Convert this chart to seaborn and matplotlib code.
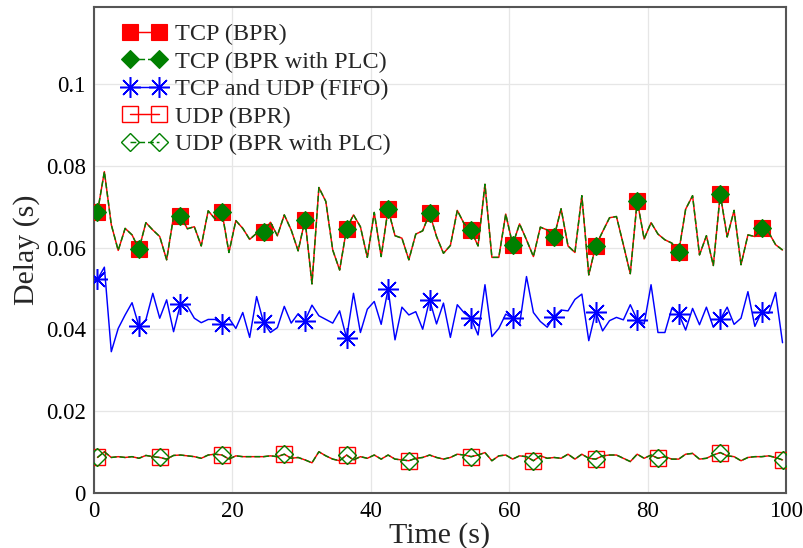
import numpy as np
import pandas as pd
import matplotlib
matplotlib.use("Agg")
import matplotlib.pyplot as plt
import seaborn as sns

time_s = np.arange(0.5, 100, 1.0)

tcp_bpr = [
    0.0686, 0.0786, 0.0656, 0.0593, 0.0647, 0.0631, 0.0596, 0.0661, 0.0643, 0.0627,
    0.0570, 0.0676, 0.0678, 0.0646, 0.0651, 0.0604, 0.0690, 0.0670, 0.0686, 0.0588,
    0.0666, 0.0647, 0.0620, 0.0635, 0.0638,
    0.0662, 0.0629, 0.0680, 0.0643, 0.0592, 0.0668, 0.0511, 0.0747, 0.0713, 0.0594,
    0.0545, 0.0646, 0.0680, 0.0651, 0.0576, 0.0686, 0.0578, 0.0694, 0.0629, 0.0623,
    0.0570, 0.0633, 0.0641, 0.0684, 0.0627,
    0.0586, 0.0605, 0.0691, 0.0658, 0.0642, 0.0604, 0.0755, 0.0576, 0.0576, 0.0682,
    0.0607, 0.0658, 0.0619, 0.0578, 0.0650, 0.0643, 0.0627, 0.0695, 0.0604, 0.0588,
    0.0727, 0.0533, 0.0604, 0.0639, 0.0673,
    0.0676, 0.0607, 0.0536, 0.0715, 0.0621, 0.0661, 0.0633, 0.0619, 0.0611, 0.0589,
    0.0694, 0.0727, 0.0582, 0.0629, 0.0556, 0.0731, 0.0626, 0.0691, 0.0558, 0.0631,
    0.0627, 0.0647, 0.0637, 0.0607, 0.0594,
]
tcp_plc = list(tcp_bpr)

fifo = [
    0.0522, 0.0552, 0.0345, 0.0402, 0.0435, 0.0465, 0.0407, 0.0423, 0.0488, 0.0427,
    0.0472, 0.0394, 0.0462, 0.0456, 0.0427, 0.0416, 0.0424, 0.0424, 0.0413, 0.0427,
    0.0402, 0.0441, 0.0380, 0.0480, 0.0417,
    0.0392, 0.0404, 0.0456, 0.0415, 0.0438, 0.0421, 0.0459, 0.0433, 0.0424, 0.0415,
    0.0445, 0.0378, 0.0488, 0.0392, 0.0449, 0.0468, 0.0412, 0.0498, 0.0374, 0.0454,
    0.0435, 0.0443, 0.0400, 0.0472, 0.0413,
    0.0464, 0.0380, 0.0460, 0.0440, 0.0427, 0.0386, 0.0509, 0.0382, 0.0402, 0.0437,
    0.0427, 0.0411, 0.0529, 0.0441, 0.0419, 0.0405, 0.0431, 0.0447, 0.0445, 0.0473,
    0.0486, 0.0372, 0.0443, 0.0396, 0.0421,
    0.0429, 0.0423, 0.0460, 0.0423, 0.0413, 0.0509, 0.0392, 0.0392, 0.0451, 0.0438,
    0.0398, 0.0451, 0.0411, 0.0454, 0.0405, 0.0424, 0.0454, 0.0412, 0.0427, 0.0492,
    0.0407, 0.0443, 0.0439, 0.0490, 0.0367,
]

udp_bpr = [
    0.0086, 0.0100, 0.0086, 0.0088, 0.0086, 0.0088, 0.0084, 0.0091, 0.0088, 0.0086,
    0.0082, 0.0091, 0.0092, 0.0090, 0.0088, 0.0084, 0.0092, 0.0094, 0.0092, 0.0082,
    0.0090, 0.0088, 0.0088, 0.0088, 0.0088,
    0.0090, 0.0088, 0.0094, 0.0084, 0.0086, 0.0080, 0.0073, 0.0100, 0.0090, 0.0082,
    0.0078, 0.0092, 0.0080, 0.0088, 0.0084, 0.0092, 0.0082, 0.0092, 0.0082, 0.0080,
    0.0078, 0.0084, 0.0086, 0.0092, 0.0086,
    0.0082, 0.0086, 0.0094, 0.0092, 0.0088, 0.0092, 0.0098, 0.0078, 0.0090, 0.0092,
    0.0082, 0.0090, 0.0088, 0.0078, 0.0090, 0.0084, 0.0086, 0.0084, 0.0094, 0.0082,
    0.0094, 0.0084, 0.0082, 0.0090, 0.0092,
    0.0092, 0.0084, 0.0076, 0.0094, 0.0084, 0.0092, 0.0084, 0.0088, 0.0082, 0.0082,
    0.0094, 0.0096, 0.0082, 0.0084, 0.0092, 0.0098, 0.0090, 0.0088, 0.0078, 0.0086,
    0.0088, 0.0088, 0.0090, 0.0086, 0.0080,
]
udp_plc = list(udp_bpr)

labels = ["TCP (BPR)", "TCP (BPR with PLC)", "TCP and UDP (FIFO)",
          "UDP (BPR)", "UDP (BPR with PLC)"]
x_ticks = [0, 20, 40, 60, 80, 100]
y_ticks = [0, 0.02, 0.04, 0.06, 0.08, 0.1]
y_tick_labels = ["0", "0.02", "0.04", "0.06", "0.08", "0.1"]

sns.set_style("white")
plt.rcParams["font.family"] = ["Liberation Serif", "DejaVu Serif"]

fig, ax = plt.subplots(figsize=(8.04, 5.48), dpi=100)
fig.subplots_adjust(left=0.1169, right=0.9776, top=0.9872, bottom=0.1011)

RED = "#ff0000"
GREEN = "#008000"
BLUE = "#0000ff"
DASH = (0, (4, 2))
LW = 1.05


def draw(y, **kw):
    n = len(ax.lines)
    ls = kw.pop("ls", "-")
    sns.lineplot(x=time_s, y=y, ax=ax, **kw)
    for ln in ax.lines[n:]:
        ln.set_linestyle(ls)


draw(tcp_bpr, color=RED, lw=LW, label=labels[0],
     marker="s", markersize=11, markevery=6, markerfacecolor=RED,
     markeredgecolor=RED, markeredgewidth=0.8, zorder=3)
draw(tcp_plc, color=GREEN, lw=LW, label=labels[1], ls=DASH,
     marker="D", markersize=8.7, markevery=6, markerfacecolor=GREEN,
     markeredgecolor=GREEN, markeredgewidth=0.8, zorder=4)
draw(fifo, color=BLUE, lw=LW, label=labels[2],
     marker=(8, 2, 0), markersize=15, markevery=6,
     markeredgecolor=BLUE, markeredgewidth=1.1, zorder=5)
draw(udp_bpr, color=RED, lw=LW, label=labels[3],
     marker="s", markersize=11, markevery=9, markerfacecolor="none",
     markeredgecolor=RED, markeredgewidth=1.0, zorder=3)
draw(udp_plc, color=GREEN, lw=LW, label=labels[4], ls=DASH,
     marker="D", markersize=8.7, markevery=9, markerfacecolor="none",
     markeredgecolor=GREEN, markeredgewidth=1.0, zorder=4)

ax.set_xlim(0, 100)
ax.set_ylim(0, 0.1189)
ax.set_xticks(x_ticks)
ax.set_xticklabels([str(v) for v in x_ticks])
ax.set_yticks(y_ticks)
ax.set_yticklabels(y_tick_labels)
ax.tick_params(axis="both", length=0, labelsize=16.5, colors="black", pad=6)
ax.grid(True, color="#e6e6e6", lw=0.9)
ax.set_axisbelow(True)
for s in ax.spines.values():
    s.set_color("#555555")
    s.set_linewidth(1.5)

ax.set_xlabel("Time (s)", fontsize=21.5, labelpad=0)
ax.set_ylabel("Delay (s)", fontsize=21.5, labelpad=4)

leg = ax.legend(loc="upper left", bbox_to_anchor=(0.0275, 0.987), frameon=False,
                fontsize=17.5, numpoints=2, handlelength=1.8, handletextpad=0.36,
                labelspacing=0.23, borderaxespad=0.0)

fig.savefig("out.png", dpi=100)
